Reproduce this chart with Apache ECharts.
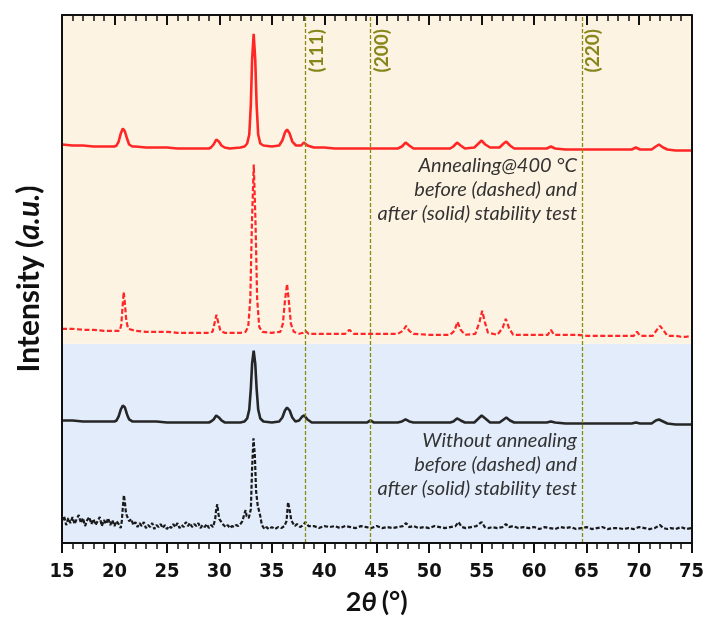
<!DOCTYPE html>
<html><head><meta charset="utf-8">
<script src="https://cdn.jsdelivr.net/npm/echarts@6/dist/echarts.min.js"></script>
<style>html,body{margin:0;padding:0;background:#fff}#c{width:707px;height:621px}</style>
</head><body><div id="c"></div>
<script>
// 2θ range
const xMin = 15, xMax = 75, xStep = 5;
// offset intensity scale (arbitrary units, stacked traces)
const yMin = 0, yMax = 530;

// Annealing@400 °C, after stability test (solid red)
const annealedAfter = [[15,400],[16,399],[17,399],[18,398],[19,398],[20,398],[20.2,399],[20.4,403],[20.6,411],[20.8,416],[21.0,413],[21.2,406],[21.4,400],[21.7,398],[22,398],[23,397],[24,397],[25,397],[26,396],[27,396],[28,396],[29,396],[29.2,397],[29.45,400],[29.7,405],[29.95,403],[30.2,399],[30.5,397],[31,396],[32,397],[32.4,398],[32.65,401],[32.85,410],[33.0,440],[33.12,485],[33.27,511],[33.42,485],[33.55,440],[33.7,410],[33.9,401],[34.2,399],[35,398],[35.7,399],[36.0,404],[36.25,412],[36.45,415],[36.7,411],[36.95,403],[37.3,399],[37.8,399],[38.05,402],[38.4,399],[39,397],[40,397],[41,396],[42,396],[43,396],[44,396],[45,396],[46,396],[47,396],[47.4,398],[47.75,402],[48.1,399],[48.5,396],[50,396],[51,396],[52,396],[52.3,398],[52.65,402],[53.0,399],[53.4,396],[54.3,397],[54.7,401],[55.0,404],[55.35,400],[55.8,397],[56.7,397],[57.1,401],[57.35,403],[57.7,399],[58.1,396],[59,396],[60,396],[61.2,396],[61.6,398],[62.0,396],[63,395],[64,395],[65,395],[66,395],[67,395],[68,395],[69.3,395],[69.7,397],[70.1,395],[71.2,395],[71.6,398],[71.9,400],[72.3,397],[72.7,395],[73.5,394],[74.5,394],[75,394]];

// Annealing@400 °C, before stability test (dashed red)
const annealedBefore = [[15,215],[16,215],[17,214],[18,214],[19,213],[20,213],[20.5,213],[20.65,219],[20.78,238],[20.88,252],[21.0,240],[21.12,224],[21.3,215],[22,213],[23,212],[24,212],[25,212],[26,211],[27,211],[28,211],[29,211],[29.35,212],[29.55,221],[29.72,229],[29.9,221],[30.1,213],[30.5,211],[31.5,211],[32,211],[32.5,212],[32.75,217],[32.95,245],[33.1,320],[33.28,380],[33.45,320],[33.6,245],[33.8,217],[34.1,212],[35,211],[35.8,212],[36.05,220],[36.25,243],[36.45,260],[36.62,243],[36.82,220],[37.1,212],[37.6,210],[38,211],[38.2,213],[38.5,210],[39,210],[40,210],[41,210],[42,210],[42.4,214],[42.8,210],[44,210],[45,210],[46,210],[47,210],[47.5,213],[47.8,218],[48.1,213],[48.5,210],[50,209],[51,209],[52,209],[52.4,213],[52.7,222],[53.0,214],[53.4,209],[54.4,210],[54.8,222],[55.05,233],[55.3,222],[55.6,211],[56.5,209],[57.0,216],[57.3,225],[57.6,216],[58.0,209],[59,209],[60,209],[61.3,209],[61.6,214],[61.9,209],[63,209],[64,209],[65,208],[66,208],[67,208],[68,208],[69.5,208],[69.8,212],[70.1,208],[71.3,208],[71.7,214],[72.0,218],[72.3,214],[72.7,208],[73.5,208],[74,207],[74.5,207],[75,208]];

// Without annealing, after stability test (solid black)
const rawAfter = [[15,123],[16,123],[17,122],[18,122],[19,122],[20,122],[20.2,123],[20.4,127],[20.6,134],[20.8,138],[21.0,136],[21.2,129],[21.4,124],[21.7,122],[22,122],[23,122],[24,122],[25,121],[26,121],[27,121],[28,121],[29,121],[29.2,122],[29.45,124],[29.7,128],[29.95,126],[30.2,123],[30.5,121],[31,121],[32,121],[32.4,122],[32.65,125],[32.85,134],[33.0,155],[33.12,180],[33.27,193],[33.42,180],[33.55,155],[33.7,134],[33.9,125],[34.2,122],[35,121],[35.7,122],[36.0,126],[36.25,133],[36.45,136],[36.7,133],[36.95,126],[37.25,122],[37.6,123],[37.9,127],[38.1,128],[38.4,124],[38.8,121],[40,121],[41,121],[42,121],[43,121],[44.1,121],[44.4,123],[44.7,121],[46,121],[47,121],[47.4,122],[47.75,124],[48.1,122],[48.5,121],[50,121],[51,121],[52,121],[52.3,122],[52.65,125],[53.0,123],[53.4,121],[54.3,121],[54.7,125],[55.0,128],[55.35,125],[55.8,121],[56.7,121],[57.1,124],[57.35,126],[57.7,123],[58.1,121],[59,121],[60,121],[61.2,121],[61.6,122],[62.0,121],[63,120],[64,120],[65,120],[66,120],[67,120],[68,120],[69.3,120],[69.7,121],[70.1,120],[71.2,120],[71.6,123],[71.9,124],[72.3,122],[72.7,120],[73.5,119],[74.5,119],[75,119]];

// Without annealing, before stability test (dashed black, noisy)
const rawBefore = [[15.0,22],[15.2,27],[15.4,18],[15.6,25],[15.8,20],[16.0,26],[16.2,19],[16.4,24],[16.6,28],[16.8,20],[17.0,25],[17.2,17],[17.4,23],[17.6,26],[17.8,19],[18.0,24],[18.2,18],[18.4,22],[18.6,26],[18.8,17],[19.0,23],[19.2,19],[19.4,25],[19.6,18],[19.8,23],[20.0,17],[20.2,22],[20.4,19],[20.6,15],[20.7,22],[20.8,36],[20.9,48],[21.0,40],[21.1,30],[21.2,27],[21.4,22],[21.6,24],[21.8,18],[22.0,21],[22.2,16],[22.4,20],[22.6,17],[22.8,21],[23.0,15],[23.2,18],[23.4,16],[23.6,20],[23.8,14],[24.0,18],[24.2,16],[24.4,19],[24.6,15],[24.8,18],[25.0,14],[25.2,17],[25.4,15],[25.6,19],[25.8,16],[26.0,20],[26.2,15],[26.4,18],[26.6,16],[26.8,21],[27.0,17],[27.2,20],[27.4,16],[27.6,19],[27.8,17],[28.0,20],[28.2,15],[28.4,18],[28.6,16],[28.8,19],[29.0,15],[29.2,18],[29.4,16],[29.6,24],[29.7,34],[29.8,39],[29.9,30],[30.0,24],[30.2,21],[30.4,18],[30.6,16],[30.8,18],[31.0,15],[31.2,17],[31.4,16],[31.6,18],[31.8,17],[32.0,19],[32.2,22],[32.35,28],[32.5,33],[32.6,27],[32.8,25],[33.0,34],[33.12,75],[33.25,105],[33.38,88],[33.5,52],[33.65,38],[33.75,36],[33.9,27],[34.05,18],[34.3,14],[34.5,16],[34.7,14],[35.0,16],[35.3,14],[35.6,16],[35.9,15],[36.2,17],[36.4,22],[36.55,41],[36.7,33],[36.85,23],[37.0,20],[37.2,17],[37.4,19],[37.7,16],[38.0,18],[38.2,21],[38.5,17],[39,17],[39.5,15],[40,17],[40.5,16],[41,17],[41.5,15],[42,17],[42.5,16],[43,15],[43.5,17],[44,16],[44.5,15],[45,17],[45.5,15],[46,16],[46.5,15],[47,16],[47.5,17],[47.8,20],[48.1,16],[48.5,17],[49,15],[49.5,16],[50,15],[50.5,17],[51,16],[51.5,15],[52,16],[52.5,17],[52.8,21],[53.1,16],[53.5,15],[54,16],[54.5,17],[55.0,21],[55.3,16],[55.7,15],[56,16],[56.5,15],[57,16],[57.3,19],[57.6,16],[58,17],[58.5,15],[59,16],[59.5,15],[60,16],[60.5,14],[61,16],[61.5,15],[62,14],[62.5,16],[63,15],[63.5,16],[64,14],[64.5,15],[65,16],[65.5,14],[66,15],[66.5,16],[67,14],[67.5,15],[68,15],[68.5,14],[69,15],[69.5,14],[70,16],[70.5,15],[71,14],[71.5,15],[72,18],[72.3,15],[72.7,14],[73,15],[73.5,14],[74,16],[74.5,14],[75,15]];

// reference reflections
const refPeaks = [38.2, 44.4, 64.6];
const refLabels = ['(111)', '(200)', '(220)'];
// background bands [from, to]
const bandRanges = [[0, 200], [200, 530]];
const bandColors = ['#e2ecfb', '#fdf3e3'];

const annoTop = 'Annealing@400 °C\nbefore (dashed) and\nafter (solid) stability test';
const annoBottom = 'Without annealing\nbefore (dashed) and\nafter (solid) stability test';

const chart = echarts.init(document.getElementById('c'));
const axisLineStyle = {color: '#111', width: 2};

const baseGraphics = [{
  type: 'text', x: 577, y: 154, z: 20,
  style: {text: annoTop, align: 'right', verticalAlign: 'top', font: "italic 20px Lato, 'Open Sans', sans-serif", lineHeight: 24, fill: '#333'}
}, {
  type: 'text', x: 577, y: 429, z: 20,
  style: {text: annoBottom, align: 'right', verticalAlign: 'top', font: "italic 20px Lato, 'Open Sans', sans-serif", lineHeight: 24, fill: '#333'}
}];

chart.setOption({
  animation: false,
  backgroundColor: '#fff',
  grid: {left: 62, right: 14, top: 15, bottom: 76},
  xAxis: [{
    type: 'value', min: xMin, max: xMax, interval: xStep, position: 'bottom', z: 10,
    axisLine: {show: true, onZero: false, lineStyle: axisLineStyle},
    axisTick: {show: true, inside: false, length: 10, lineStyle: {color: '#111', width: 2}},
    minorTick: {show: true, splitNumber: 5, length: 6, lineStyle: {color: '#111', width: 1.5}},
    splitLine: {show: false},
    axisLabel: {margin: 19, color: '#111', fontWeight: 'bold', fontSize: 20, fontFamily: "'Liberation Sans Narrow', 'DejaVu Sans Condensed', 'Liberation Sans', sans-serif"},
    name: '{a|2}{b|θ}{a|(°)}', nameLocation: 'middle', nameGap: 46,
    nameTextStyle: {rich: {
      a: {fontSize: 27, fontWeight: 'bold', color: '#111', fontFamily: "Lato, 'Open Sans', sans-serif"},
      b: {fontSize: 27, fontWeight: 'bold', fontStyle: 'italic', color: '#111', fontFamily: "Lato, 'Open Sans', sans-serif", padding: [0, 5, 0, 0]}
    }}
  }, {
    type: 'value', min: xMin, max: xMax, interval: xStep, position: 'top', z: 10,
    axisLine: {show: true, onZero: false, lineStyle: axisLineStyle},
    axisTick: {show: true, inside: true, length: 10, lineStyle: {color: '#111', width: 2}},
    minorTick: {show: true, splitNumber: 5, length: 6, lineStyle: {color: '#111', width: 1.5}},
    splitLine: {show: false}, axisLabel: {show: false}
  }],
  yAxis: [{
    type: 'value', min: yMin, max: yMax, position: 'left', z: 10,
    axisLine: {show: true, onZero: false, lineStyle: axisLineStyle},
    axisTick: {show: false}, axisLabel: {show: false}, splitLine: {show: false},
    name: '{a|Intensity (}{b|a.u.}{a|)}', nameLocation: 'middle', nameGap: 18, nameRotate: 90,
    nameTextStyle: {rich: {
      a: {fontSize: 30, fontWeight: 'bold', color: '#111', fontFamily: "Lato, 'Open Sans', sans-serif"},
      b: {fontSize: 30, fontWeight: 'bold', fontStyle: 'italic', color: '#111', fontFamily: "Lato, 'Open Sans', sans-serif"}
    }}
  }, {
    type: 'value', min: yMin, max: yMax, position: 'right', z: 10,
    axisLine: {show: true, onZero: false, lineStyle: axisLineStyle},
    axisTick: {show: false}, axisLabel: {show: false}, splitLine: {show: false}
  }],
  series: [{
    type: 'line', data: [], z: 1, silent: true,
    markArea: {silent: true, data: bandRanges.map((r, i) => [
      {yAxis: r[0], itemStyle: {color: bandColors[i]}}, {yAxis: r[1]}
    ])},
    markLine: {silent: true, symbol: ['none', 'none'],
      lineStyle: {color: '#8a8a12', type: [4, 2], width: 1.3},
      label: {show: false},
      data: refPeaks.map(v => ({xAxis: v}))
    }
  }, {
    name: 'annealed after', type: 'line', data: annealedAfter, z: 3, symbol: 'none',
    lineStyle: {color: '#ff2626', width: 2.6}
  }, {
    name: 'annealed before', type: 'line', data: annealedBefore, z: 3, symbol: 'none',
    lineStyle: {color: '#ff2626', width: 2.2, type: [5, 2.5]}
  }, {
    name: 'raw after', type: 'line', data: rawAfter, z: 3, symbol: 'none',
    lineStyle: {color: '#262626', width: 2.6}
  }, {
    name: 'raw before', type: 'line', data: rawBefore, z: 3, symbol: 'none',
    lineStyle: {color: '#1a1a1a', width: 2.2, type: [4, 2]}
  }],
  graphic: baseGraphics
});

// rotated reflection labels placed next to their reference lines
const refGraphics = refPeaks.map((v, i) => {
  const p = chart.convertToPixel({xAxisIndex: 0, yAxisIndex: 0}, [v, yMax]);
  return {
    type: 'text', x: p[0] + 11, y: p[1] + 14, rotation: Math.PI / 2, z: 20,
    style: {text: refLabels[i], align: 'right', verticalAlign: 'middle',
      fontSize: 19, fontWeight: 'bold', fontFamily: 'Lato', fill: '#86861a'}
  };
});
chart.setOption({graphic: baseGraphics.concat(refGraphics)}, {replaceMerge: ['graphic']});
</script></body></html>
